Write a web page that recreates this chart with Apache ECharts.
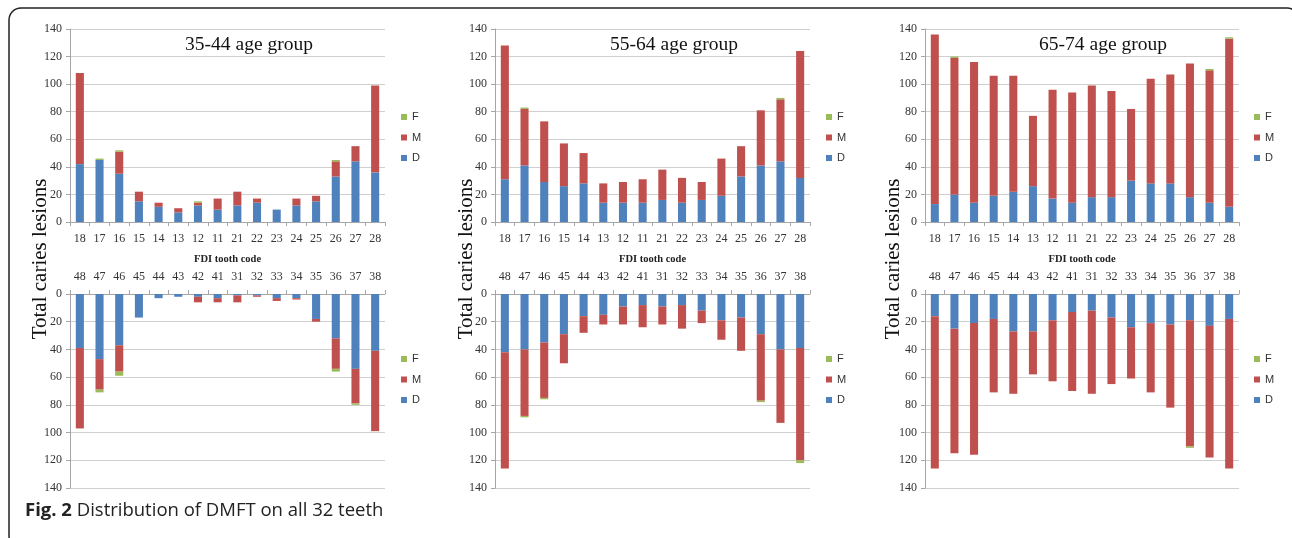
<!DOCTYPE html>
<html>
<head>
<meta charset="utf-8">
<script src="https://cdn.jsdelivr.net/npm/echarts@6/dist/echarts.min.js"></script>
<style>
html,body{margin:0;padding:0;background:#fff;}
#chart{width:1292px;height:538px;}
</style>
</head>
<body>
<div id="chart"></div>
<script>
// ---- data ----
const upperTeeth = ['18','17','16','15','14','13','12','11','21','22','23','24','25','26','27','28'];
const lowerTeeth = ['48','47','46','45','44','43','42','41','31','32','33','34','35','36','37','38'];
const groupTitles = ['35-44 age group','55-64 age group','65-74 age group'];

const d3544Upper = [42,45,35,15,11,7,12,9,12,14,9,12,15,33,44,36];
const m3544Upper = [66,0,16,7,3,3,2,8,10,3,0,5,4,11,11,63];
const f3544Upper = [0,1,1,0,0,0,1,0,0,0,0,0,0,1,0,0];
const d3544Lower = [39,47,37,17,3,2,2,3,1,1,3,3,18,32,54,41];
const m3544Lower = [58,22,19,0,0,0,4,3,5,1,2,1,2,22,25,58];
const f3544Lower = [0,2,3,0,0,0,0,0,0,0,0,0,0,2,1,0];

const d5564Upper = [31,41,29,26,28,14,14,14,16,14,16,19,33,41,44,32];
const m5564Upper = [97,41,44,31,22,14,15,17,22,18,13,27,22,40,45,92];
const f5564Upper = [0,1,0,0,0,0,0,0,0,0,0,0,0,0,1,0];
const d5564Lower = [42,40,35,29,16,15,9,8,9,8,12,19,17,29,40,39];
const m5564Lower = [84,48,40,21,12,7,13,16,13,17,9,14,24,48,53,81];
const f5564Lower = [0,1,1,0,0,0,0,0,0,0,0,0,0,1,0,2];

const d6574Upper = [13,20,14,19,22,26,17,14,18,18,30,28,28,18,14,11];
const m6574Upper = [123,99,102,87,84,51,79,80,81,77,52,76,79,97,96,122];
const f6574Upper = [0,1,0,0,0,0,0,0,0,0,0,0,0,0,1,1];
const d6574Lower = [16,25,21,18,27,27,19,13,12,17,24,21,22,19,23,18];
const m6574Lower = [110,90,95,53,45,31,44,57,60,48,37,50,60,91,95,108];
const f6574Lower = [0,0,0,0,0,0,0,0,0,0,0,0,0,1,0,0];

// ---- layout ----
const groups = [
  {upper:[d3544Upper,m3544Upper,f3544Upper], lower:[d3544Lower,m3544Lower,f3544Lower]},
  {upper:[d5564Upper,m5564Upper,f5564Upper], lower:[d5564Lower,m5564Lower,f5564Lower]},
  {upper:[d6574Upper,m6574Upper,f6574Upper], lower:[d6574Lower,m6574Lower,f6574Lower]}
];
const panelLeft = [70, 495, 925];
const panelWidth = [315, 315, 314];
const legendLeft = [401, 826, 1254];
const titleX = [249, 674, 1103];
const yNameX = [40, 466, 893];
const rowTop = [29, 294];
const rowHeight = [193, 194];
const legendTop = [111, 353];

const colors = {D:'#4F81BD', M:'#C0504D', F:'#9BBB59'};
const serif = '"Liberation Serif", "Times New Roman", serif';

const grid = [], xAxis = [], yAxis = [], series = [], legend = [];
groups.forEach((g, p) => {
  [0,1].forEach(h => {
    const idx = p*2 + h;
    grid.push({left: panelLeft[p], width: panelWidth[p], top: rowTop[h], height: rowHeight[h]});
    xAxis.push({
      type: 'category', gridIndex: idx, data: h === 0 ? upperTeeth : lowerTeeth,
      position: h === 0 ? 'bottom' : 'top',
      boundaryGap: true,
      axisLine: {show: true, onZero: false, lineStyle: {color: '#a6a6a6', width: 1}},
      axisTick: {show: true, length: 4, lineStyle: {color: '#a6a6a6'}},
      axisLabel: {fontFamily: serif, fontSize: 12, color: '#333', margin: 11, interval: 0},
      name: h === 0 ? 'FDI tooth code' : '',
      nameLocation: 'middle', nameGap: 32,
      nameTextStyle: {fontFamily: serif, fontWeight: 'bold', fontSize: 10.5, color: '#222'}
    });
    yAxis.push({
      type: 'value', gridIndex: idx, min: 0, max: 140, interval: 20, inverse: h === 1,
      axisLine: {show: true, lineStyle: {color: '#a6a6a6', width: 1}},
      axisTick: {show: true, length: 4, lineStyle: {color: '#a6a6a6'}},
      axisLabel: {fontFamily: serif, fontSize: 12, color: '#333', margin: 8},
      splitLine: {show: true, lineStyle: {color: '#cfcfcf', width: 1}}
    });
    const vals = h === 0 ? g.upper : g.lower;
    ['D','M','F'].forEach((name, k) => {
      series.push({
        name, type: 'bar', xAxisIndex: idx, yAxisIndex: idx, stack: 's' + idx,
        barWidth: '41%', data: vals[k],
        itemStyle: {color: colors[name]},
        emphasis: {disabled: true}
      });
    });
    legend.push({
      orient: 'vertical', left: legendLeft[p], top: legendTop[h],
      data: ['F','M','D'], icon: 'rect', itemWidth: 6, itemHeight: 6, itemGap: 8.5,
      textStyle: {fontFamily: '"Liberation Sans", Arial, sans-serif', fontSize: 11, color: '#333', lineHeight: 12},
      selectedMode: false, padding: 0
    });
  });
});

const graphic = [];
groupTitles.forEach((t, p) => {
  graphic.push({type: 'text', x: titleX[p], y: 45, style: {text: t, font: '19.5px ' + serif, fill: '#111', align: 'center', verticalAlign: 'middle'}});
  graphic.push({type: 'text', x: yNameX[p], y: 259, rotation: Math.PI/2,
    style: {text: 'Total caries lesions', font: '21px ' + serif, fill: '#111', align: 'center', verticalAlign: 'middle'}});
});
graphic.push({type: 'text', x: 25, y: 511,
  style: {text: '{b|Fig. 2} Distribution of DMFT on all 32 teeth',
    font: '18.5px "Open Sans", sans-serif', fill: '#222', verticalAlign: 'middle',
    rich: {b: {fontWeight: 'bold', fontSize: 18.5, fontFamily: '"Open Sans", sans-serif', fill: '#222'}}}});
graphic.push({type: 'rect', shape: {x: 9, y: 8, width: 1290, height: 540, r: 12},
  style: {stroke: '#222', lineWidth: 1.5, fill: 'none'}});

const chart = echarts.init(document.getElementById('chart'), null, {renderer: 'canvas'});
chart.setOption({
  animation: false,
  backgroundColor: '#fff',
  grid, xAxis, yAxis, series, legend, graphic
});
</script>
</body>
</html>
